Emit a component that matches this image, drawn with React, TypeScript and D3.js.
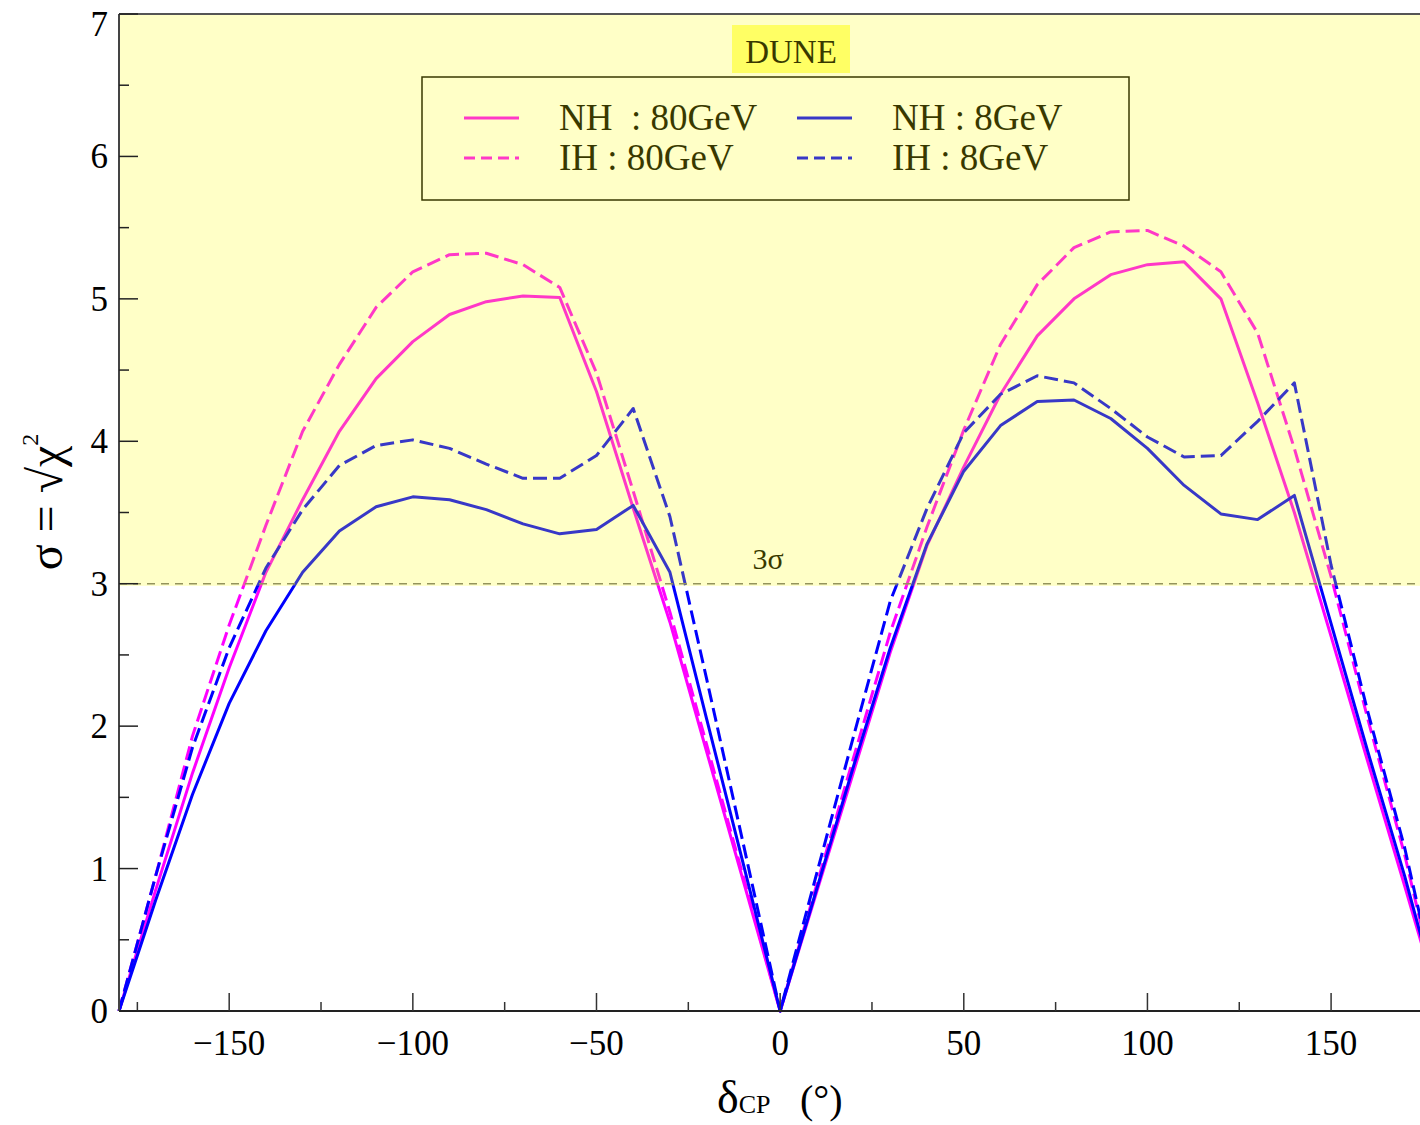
import React from "react";
import * as d3 from "d3";

// delta_CP grid (degrees)
const deltaCP = [
  -180, -170, -160, -150, -140, -130, -120, -110, -100, -90, -80, -70, -60, -50, -40, -30, -20, -10,
  0, 10, 20, 30, 40, 50, 60, 70, 80, 90, 100, 110, 120, 130, 140, 150, 160, 170, 180,
];

// sigma = sqrt(chi^2) for each case
const nh80 = [
  0, 0.85, 1.67, 2.41, 3.08, 3.59, 4.07, 4.44, 4.7, 4.89, 4.98, 5.02, 5.01, 4.35, 3.53, 2.73, 1.82, 0.91,
  0, 0.84, 1.68, 2.52, 3.27, 3.82, 4.33, 4.74, 5.0, 5.17, 5.24, 5.26, 5.0, 4.27, 3.5, 2.63, 1.75, 0.88, 0,
];
const ih80 = [
  0, 0.95, 1.93, 2.71, 3.41, 4.07, 4.54, 4.94, 5.19, 5.31, 5.32, 5.24, 5.08, 4.48, 3.65, 2.8, 1.87, 0.94,
  0, 0.89, 1.78, 2.66, 3.4, 4.08, 4.68, 5.1, 5.36, 5.47, 5.48, 5.37, 5.19, 4.76, 3.95, 3.05, 2.05, 1.1, 0,
];
const nh8 = [
  0, 0.78, 1.52, 2.16, 2.67, 3.08, 3.37, 3.54, 3.61, 3.59, 3.52, 3.42, 3.35, 3.38, 3.55, 3.08, 2.05, 1.03,
  0, 0.86, 1.72, 2.55, 3.28, 3.79, 4.11, 4.28, 4.29, 4.16, 3.95, 3.69, 3.49, 3.45, 3.62, 2.72, 1.82, 0.95, 0,
];
const ih8 = [
  0, 0.95, 1.85, 2.55, 3.11, 3.52, 3.83, 3.97, 4.01, 3.95, 3.84, 3.74, 3.74, 3.9, 4.23, 3.47, 2.33, 1.17,
  0, 0.97, 1.93, 2.88, 3.53, 4.06, 4.33, 4.46, 4.41, 4.23, 4.03, 3.89, 3.9, 4.14, 4.41, 3.13, 2.1, 1.15, 0,
];

const xMajorTicks = [-150, -100, -50, 0, 50, 100, 150];
const xMinorTicks = [-175, -125, -75, -25, 25, 75, 125, 175];
const yMajorTicks = [0, 1, 2, 3, 4, 5, 6, 7];
const yMinorTicks = [0.5, 1.5, 2.5, 3.5, 4.5, 5.5, 6.5];

const series = [
  { label: "NH  : 80GeV", values: nh80, color: "#ff00ff", dash: null },
  { label: "IH : 80GeV", values: ih80, color: "#ff00ff", dash: "14,6" },
  { label: "NH : 8GeV", values: nh8, color: "#0000ff", dash: null },
  { label: "IH : 8GeV", values: ih8, color: "#0000ff", dash: "14,6" },
];

const W = 1420;
const H = 1125;
const FONT = "'Liberation Serif', 'DejaVu Serif', serif";

export default function App() {
  const x = d3.scaleLinear().domain([-180, 180]).range([119, 119 + 360 * 3.673]);
  const y = d3.scaleLinear().domain([0, 7]).range([1011, 14]);

  const line = d3
    .line<number>()
    .x((_, i) => x(deltaCP[i]))
    .y((v) => y(v));

  const legendRows = [
    { s: series[0], lx: 464, tx: 559, ly: 118 },
    { s: series[1], lx: 464, tx: 559, ly: 158 },
    { s: series[2], lx: 797, tx: 892, ly: 118 },
    { s: series[3], lx: 797, tx: 892, ly: 158 },
  ];

  return (
    <div style={{ position: "absolute", left: 0, top: 0 }}>
      <svg width={W} height={H} style={{ display: "block", background: "#fff" }} fontFamily={FONT}>
        {/* curves */}
        {series.map((s) => (
          <path
            key={s.label}
            d={line(s.values) || ""}
            fill="none"
            stroke={s.color}
            strokeWidth={3}
            strokeDasharray={s.dash || undefined}
            strokeLinejoin="round"
          />
        ))}

        {/* 3 sigma line */}
        <line x1={x(-180)} x2={W} y1={y(3)} y2={y(3)} stroke="#777" strokeWidth={1.5} strokeDasharray="8,6" />
        <text x={768} y={569} fontSize={30} textAnchor="middle" fill="#000">
          3σ
        </text>

        {/* DUNE label */}
        <rect x={732} y={25} width={118} height={48} fill="#ffff80" />
        <text x={791} y={63} fontSize={33} textAnchor="middle" fill="#000">
          DUNE
        </text>

        {/* legend */}
        <rect x={422} y={77} width={707} height={123} fill="#fff" stroke="#000" strokeWidth={1.5} />
        {legendRows.map((r) => (
          <g key={r.s.label}>
            <line
              x1={r.lx}
              x2={r.lx + 55}
              y1={r.ly}
              y2={r.ly}
              stroke={r.s.color}
              strokeWidth={3}
              strokeDasharray={r.s.dash ? "11,6" : undefined}
            />
            <text x={r.tx} y={r.ly + 12} fontSize={37} fill="#000" style={{ whiteSpace: "pre" }}>
              {r.s.label}
            </text>
          </g>
        ))}

        {/* translucent yellow band above 3 sigma */}
        <rect x={x(-180)} y={y(7)} width={W - x(-180)} height={y(2.985) - y(7)} fill="#ffff00" opacity={0.22} />

        {/* frame */}
        <line x1={x(-180)} x2={W} y1={y(7)} y2={y(7)} stroke="#555" strokeWidth={2} />
        <line x1={x(-180)} x2={W} y1={y(0)} y2={y(0)} stroke="#222" strokeWidth={2} />
        <line x1={x(-180)} x2={x(-180)} y1={y(0)} y2={y(7)} stroke="#444" strokeWidth={2} />

        {/* x ticks */}
        {xMajorTicks.map((t) => (
          <g key={"xM" + t}>
            <line x1={x(t)} x2={x(t)} y1={y(0)} y2={y(0) - 18} stroke="#333" strokeWidth={1.5} />
            <text x={x(t)} y={1055} fontSize={35} textAnchor="middle" fill="#000">
              {t < 0 ? "\u2212" + Math.abs(t) : t}
            </text>
          </g>
        ))}
        {xMinorTicks.map((t) => (
          <line key={"xm" + t} x1={x(t)} x2={x(t)} y1={y(0)} y2={y(0) - 9} stroke="#333" strokeWidth={1.5} />
        ))}

        {/* y ticks */}
        {yMajorTicks.map((t) => (
          <g key={"yM" + t}>
            <line x1={x(-180)} x2={x(-180) + 19} y1={y(t)} y2={y(t)} stroke="#222" strokeWidth={1.5} />
            <text x={108} y={t === 7 ? 36 : y(t) + 12} fontSize={35} textAnchor="end" fill="#000">
              {t}
            </text>
          </g>
        ))}
        {yMinorTicks.map((t) => (
          <line key={"ym" + t} x1={x(-180)} x2={x(-180) + 10} y1={y(t)} y2={y(t)} stroke="#222" strokeWidth={1.5} />
        ))}

        {/* axis titles */}
        <text x={717} y={1113} fontSize={46} fill="#000">
          δ<tspan fontSize={26}>CP</tspan>
        </text>
        <text x={800} y={1113} fontSize={40} fill="#000">
          (°)
        </text>
        <text transform="translate(62,502) rotate(-90)" fontSize={48} textAnchor="middle" fill="#000">
          σ = √χ<tspan fontSize={24} dy={-24}>2</tspan>
        </text>
      </svg>
    </div>
  );
}
